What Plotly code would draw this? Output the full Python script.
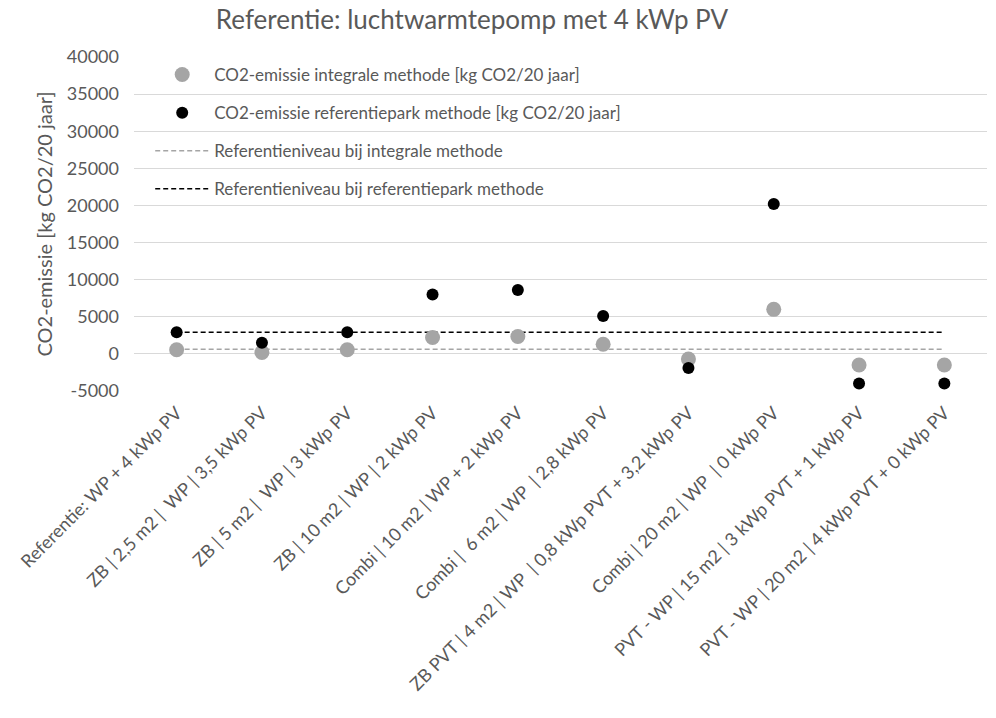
import plotly.graph_objects as go

NB = "\u00a0"
categories = [
    "Referentie: WP + 4 kWp PV",
    "ZB | 2,5 m2 |" + NB + " WP | 3,5 kWp PV",
    "ZB | 5 m2 |" + NB + " WP | 3 kWp PV",
    "ZB | 10 m2 | WP | 2 kWp PV",
    "Combi | 10 m2 | WP + 2 kWp PV",
    "Combi |" + NB + " 6 m2 | WP" + NB + " | 2,8 kWp PV",
    "ZB PVT | 4 m2 | WP" + NB + " | 0,8 kWp PVT + 3,2 kWp PV",
    "Combi | 20 m2 | WP" + NB + " | 0 kWp PV",
    "PVT - WP | 15 m2 | 3 kWp PVT + 1 kWp PV",
    "PVT - WP | 20 m2 | 4 kWp PVT + 0 kWp PV",
]
integrale = [550, 200, 550, 2200, 2350, 1300, -700, 6000, -1500, -1500]
referentiepark = [2900, 1500, 2900, 8000, 8600, 5100, -1900, 20200, -4000, -4000]
ref_integrale = [620] * 10
ref_referentiepark = [2900] * 10

y_ticks = list(range(-5000, 40001, 5000))

FONT = "Lato"
TXT = "#595959"

fig = go.Figure()
# reference lines first so markers are drawn on top
fig.add_trace(go.Scatter(
    x=categories, y=ref_integrale, mode="lines",
    name="Referentieniveau bij integrale methode",
    line=dict(color="#A5A5A5", width=1.5, dash="5px,3px"),
    legendgroup="c", legendrank=3))
fig.add_trace(go.Scatter(
    x=categories, y=ref_referentiepark, mode="lines",
    name="Referentieniveau bij referentiepark methode",
    line=dict(color="#000000", width=1.5, dash="5px,3px"),
    legendgroup="d", legendrank=4))
fig.add_trace(go.Scatter(
    x=categories, y=integrale, mode="markers",
    name="CO2-emissie integrale methode [kg CO2/20 jaar]",
    marker=dict(color="#A5A5A5", size=15), legendgroup="a", legendrank=1))
fig.add_trace(go.Scatter(
    x=categories, y=referentiepark, mode="markers",
    name="CO2-emissie referentiepark methode [kg CO2/20 jaar]",
    marker=dict(color="#000000", size=12), legendgroup="b", legendrank=2))

fig.update_layout(
    width=996, height=718,
    margin=dict(l=134, r=9, t=57, b=327),
    paper_bgcolor="white", plot_bgcolor="white",
    font=dict(family=FONT, size=16, color=TXT),
    title=dict(text="Referentie: luchtwarmtepomp met 4 kWp PV",
               x=472 / 996, xanchor="center",
               y=1 - 20 / 718, yanchor="middle",
               font=dict(family=FONT, size=26, color=TXT)),
    legend=dict(x=0.019, y=1.0, xanchor="left", yanchor="top",
                bgcolor="rgba(0,0,0,0)", traceorder="grouped",
                itemwidth=54, tracegroupgap=13,
                font=dict(family=FONT, size=17, color=TXT)),
    showlegend=True,
)
fig.update_xaxes(
    type="category", categoryorder="array", categoryarray=categories,
    range=[-0.5, 9.5], tickangle=-45, showgrid=False, showline=False,
    ticks="", automargin=False, ticklabelstandoff=7,
    tickfont=dict(family=FONT, size=18, color=TXT),
)
fig.update_yaxes(
    range=[-5000, 40000], tickvals=y_ticks, ticktext=[str(v) for v in y_ticks],
    showgrid=True, gridcolor="#D9D9D9", gridwidth=1.3,
    zeroline=True, zerolinecolor="#D9D9D9", zerolinewidth=1.3,
    showline=False, ticks="", automargin=False, ticklabelstandoff=14,
    title=dict(text="CO2-emissie [kg CO2/20 jaar]", standoff=8,
               font=dict(family=FONT, size=20, color=TXT)),
    tickfont=dict(family=FONT, size=18, color=TXT),
)

# remove the default page margin so the figure fills the window exactly
fig.write_html("out.html", config={"displayModeBar": False},
               post_script="document.body.style.margin='0';")
